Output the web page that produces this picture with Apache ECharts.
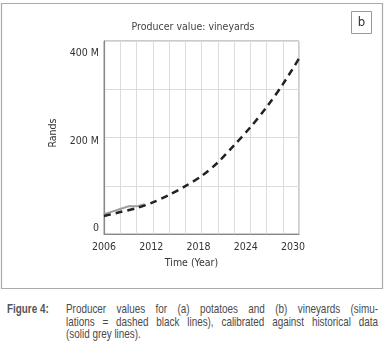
<!DOCTYPE html>
<html>
<head>
<meta charset="utf-8">
<script src="https://cdn.jsdelivr.net/npm/echarts@6/dist/echarts.min.js"></script>
<style>
  html, body { margin: 0; padding: 0; background: #fff; }
  #chart { position: absolute; left: 0; top: 0; width: 386px; height: 295px; }
  .caption {
    position: absolute; left: 0; top: 303px; width: 386px;
    font-family: 'Liberation Sans', Arial, sans-serif;
    font-size: 13px; color: #4a4a4a; line-height: 12.6px;
  }
  .caption .fig {
    position: absolute; left: 7px; top: 0; font-weight: bold; color: #555;
    transform: scaleX(0.76); transform-origin: 0 0;
  }
  .caption .body {
    position: absolute; left: 66px; top: 0; width: 410px;
    transform: scaleX(0.761); transform-origin: 0 0;
  }
  .caption .line { white-space: nowrap; text-align: justify; text-align-last: justify; }
  .caption .line.last { text-align-last: left; }
</style>
</head>
<body>
<div id="chart"></div>
<div class="caption">
  <div class="fig">Figure 4:</div>
  <div class="body">
    <div class="line">Producer values for (a) potatoes and (b) vineyards (simu-</div>
    <div class="line">lations = dashed black lines), calibrated against historical data</div>
    <div class="line last">(solid grey lines).</div>
  </div>
</div>
<script>
// simulated producer value (million rands), every 2 years
const simYears = [2006, 2008, 2010, 2012, 2014, 2016, 2018, 2020, 2022, 2024, 2026, 2028, 2030];
const simValues = [41, 50, 59, 72, 89, 109, 132, 163, 202, 243, 289, 341, 400];
// historical data (million rands)
const histYears = [2006, 2007, 2008, 2009, 2010, 2011];
const histValues = [45, 51, 57, 63, 63, 68];
const yTickLabels = { 0: '0', 200: '200 M', 400: '400 M' };
const xTickLabels = [2006, 2012, 2018, 2024, 2030];

const font = "'DejaVu Sans Condensed', 'Liberation Sans', sans-serif";

const myChart = echarts.init(document.getElementById('chart'));
const option = {
  animation: false,
  textStyle: { fontFamily: font },
  title: {
    text: 'Producer value: vineyards',
    left: 'center',
    top: 17,
    textStyle: { fontFamily: font, fontSize: 10.5, fontWeight: 'normal', color: '#444' },
  },
  graphic: [
    { // outer frame
      type: 'rect',
      shape: { x: 1.5, y: 3.5, width: 381, height: 285 },
      style: { fill: 'none', stroke: '#aaa', lineWidth: 1.2 },
      silent: true,
    },
    { // panel letter
      type: 'rect',
      shape: { x: 351.5, y: 11.5, width: 20, height: 22 },
      style: { fill: '#fff', stroke: '#999', lineWidth: 1 },
    },
    {
      type: 'text',
      x: 361.5, y: 22.5,
      style: { text: 'b', fontFamily: font, fontSize: 13, fill: '#333', align: 'center', verticalAlign: 'middle' },
    },
  ],
  grid: {
    left: 104, top: 41, width: 195, height: 193,
    show: true, borderColor: '#999', borderWidth: 1,
  },
  xAxis: [
    { // grid lines every 2 years, carries the data
      type: 'value', min: 2006, max: 2030, interval: 2,
      axisLine: { show: true, lineStyle: { color: '#888', width: 1.2 } },
      axisTick: { show: false },
      axisLabel: { show: false },
      splitLine: { show: true, lineStyle: { color: '#dcdcdc' } },
    },
    { // tick labels
      type: 'value', min: 2006, max: 2030.75, interval: 6, position: 'bottom',
      axisLine: { show: false },
      axisTick: { show: false },
      splitLine: { show: false },
      axisLabel: {
        margin: 8, fontSize: 10.5, color: '#333',
        formatter: v => (xTickLabels.indexOf(v) >= 0 ? String(v) : ''),
      },
      name: 'Time (Year)',
      nameLocation: 'middle',
      nameGap: 22,
      nameTextStyle: { fontSize: 10.5, color: '#333', padding: [0, 20, 0, 0] },
    },
  ],
  yAxis: [
    {
      type: 'value', min: 0, max: 440, interval: 110,
      axisLine: { show: true, lineStyle: { color: '#888', width: 1.2 } },
      axisTick: { show: false },
      axisLabel: { show: false },
      splitLine: { show: true, lineStyle: { color: '#dcdcdc' } },
    },
    {
      type: 'value', min: 0, max: 440, interval: 200, position: 'left',
      axisLine: { show: false },
      axisTick: { show: false },
      splitLine: { show: false },
      axisLabel: {
        margin: 5, fontSize: 10.5, color: '#333',
        verticalAlign: 'bottom',
        formatter: v => yTickLabels[v] || '',
      },
      name: 'Rands',
      nameLocation: 'middle',
      nameRotate: 90,
      nameGap: 40,
      nameTextStyle: { fontSize: 10.5, color: '#333', padding: [0, 0, 0, 9] },
    },
  ],
  series: [
    {
      name: 'historical',
      type: 'line',
      xAxisIndex: 0, yAxisIndex: 0,
      data: histYears.map((y, i) => [y, histValues[i]]),
      symbol: 'none',
      lineStyle: { color: '#9a9a9a', width: 2 },
    },
    {
      name: 'simulation',
      type: 'line',
      xAxisIndex: 0, yAxisIndex: 0,
      data: simYears.map((y, i) => [y, simValues[i]]),
      symbol: 'none',
      smooth: 0.3,
      lineStyle: { color: '#222', width: 2.5, type: [7, 5] },
    },
  ],
};
myChart.setOption(option);
</script>
</body>
</html>
